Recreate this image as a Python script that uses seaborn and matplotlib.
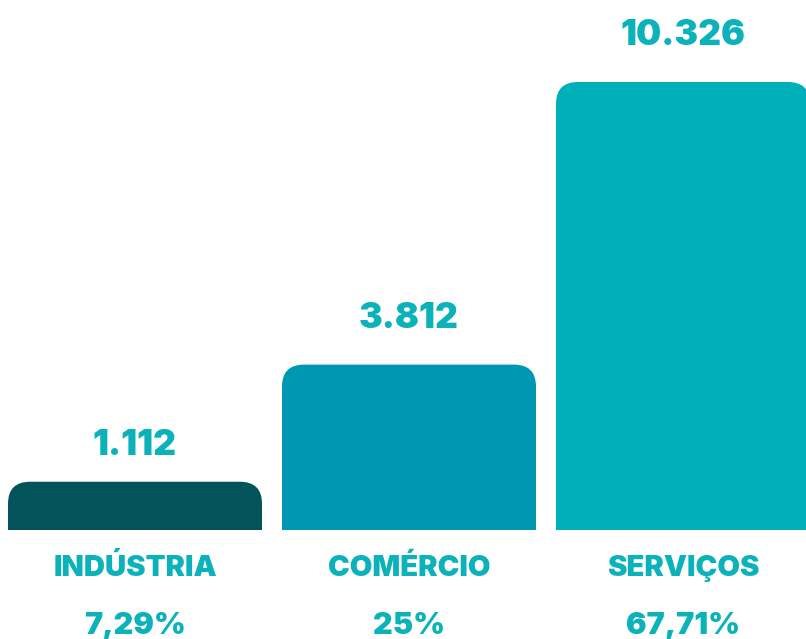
import matplotlib
matplotlib.use("Agg")
import matplotlib.pyplot as plt
from matplotlib.patches import FancyBboxPatch, Rectangle
import seaborn as sns
import pandas as pd

# ------------------------------------------------------------
# DATA
# ------------------------------------------------------------
setores = ["INDÚSTRIA", "COMÉRCIO", "SERVIÇOS"]
empresas = [1112, 3812, 10326]
valor_labels = ["1.112", "3.812", "10.326"]
percentuais = ["7,29%", "25%", "67,71%"]

# ------------------------------------------------------------
# STYLE
# ------------------------------------------------------------
bar_colors = ["#03535a", "#0097b2", "#00b0b9"]
text_color = "#0bb2ba"
label_gap_px = [27, 37, 37]

sns.set_theme(style="white")
plt.rcParams["font.family"] = ["Inter", "DejaVu Sans"]

df = pd.DataFrame({"setor": setores, "empresas": empresas})

fig = plt.figure(figsize=(8.06, 6.39), dpi=100)
ax = fig.add_axes([0, 0, 1, 1])

sns.barplot(data=df, x="setor", y="empresas", hue="setor",
            palette=bar_colors, width=0.927, legend=False, ax=ax)

# pixel-based limits: bar pitch 274 px, baseline 109 px from bottom
px_x = 1 / 274
px_y = 10326 / 448
ax.set_xlim(-135 * px_x, (806 - 135) * px_x)
ax.set_ylim(-109 * px_y, 530 * px_y)
ax.axis("off")

# rounded top corners
radius = 22 * px_x
for patch, color in zip(list(ax.patches), bar_colors):
    x0, w, h = patch.get_x(), patch.get_width(), patch.get_height()
    patch.set_visible(False)
    rounded = FancyBboxPatch(
        (x0, -60 * px_y), w, h + 60 * px_y,
        boxstyle=f"round,pad=0,rounding_size={radius}",
        mutation_aspect=px_y / px_x,
        facecolor=color, edgecolor="none",
    )
    ax.add_patch(rounded)
    clip = Rectangle((x0 - 1, 0), w + 2, 20000, transform=ax.transData)
    rounded.set_clip_path(clip)

for i, (val, txt, pct, setor) in enumerate(zip(empresas, valor_labels, percentuais, setores)):
    ax.annotate(txt, (i, val), xytext=(0, label_gap_px[i]), textcoords="offset pixels",
                ha="center", va="baseline", fontsize=25.5, fontweight=900,
                color=text_color)
    ax.annotate(setor, (i, 0), xytext=(0, -38), textcoords="offset pixels",
                ha="center", va="center", fontsize=21, fontweight=900,
                color=text_color)
    ax.annotate(pct, (i, 0), xytext=(0, -96), textcoords="offset pixels",
                ha="center", va="center", fontsize=22, fontweight=900,
                color=text_color)

fig.savefig("out.png", dpi=100)
